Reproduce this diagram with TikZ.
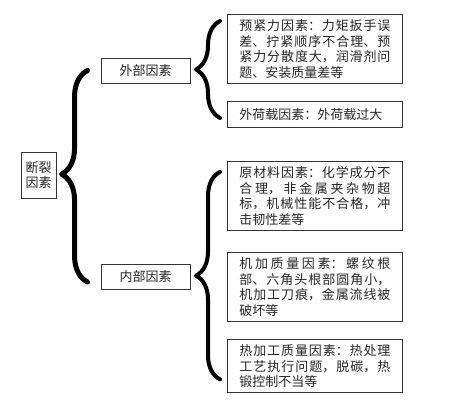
\documentclass[tikz,border=0pt]{standalone}
\usepackage{fontspec}
\newfontfamily\cjk{Noto Sans CJK SC}
\usetikzlibrary{positioning,calc,decorations.pathreplacing}
\XeTeXlinebreaklocale "zh"
\XeTeXlinebreakskip=0pt plus 3pt

\begin{document}
\begin{tikzpicture}[
    x=1pt,y=-1pt,
    font=\cjk\fontsize{13}{15.7}\selectfont,
    box/.style={
        rectangle,draw=black!80,line width=0.9pt,
        text=black!85,
        text width=151pt,
        inner xsep=12pt,inner ysep=5pt,
        align=justify
    },
    tag/.style={
        rectangle,draw=black!80,line width=0.9pt,
        text=black!85,
        minimum width=89pt,minimum height=25pt,
        inner sep=2pt
    },
    brace/.style={
        decorate,line width=4pt,line cap=round,line join=round,
        decoration={brace,amplitude=24pt}
    }
]
\useasboundingbox (0,0) rectangle (474,400);

\node[box,anchor=north west] (pre) at (227,14) {预紧力因素：力矩扳手误\linebreak 差、拧紧顺序不合理、预\linebreak 紧力分散度大，润滑剂问\linebreak 题、安装质量差等};
\node[box,below=17pt of pre,minimum height=26pt] (load) {外荷载因素：外荷载过大};
\node[box,below=33pt of load] (raw) {原材料因素：化学成分不\linebreak 合理，非金属夹杂物超\linebreak 标，机械性能不合格，冲\linebreak 击韧性差等};
\node[box,below=21pt of raw] (mach) {机加质量因素：螺纹根\linebreak 部、六角头根部圆角小，\linebreak 机加工刀痕，金属流线被\linebreak 破坏等};
\node[box,below=17pt of mach] (heat) {热加工质量因素：热处理\linebreak 工艺执行问题，脱碳，热\linebreak 锻控制不当等};

\node[tag] (ext) at (145.5,70.5) {外部因素};
\node[tag] (int) at (145.5,276.5) {内部因素};
\node[tag,minimum width=35pt,minimum height=46pt,text width=26pt,inner xsep=4.5pt,align=center] (root) at (38.5,175) {断裂\\因素};

\coordinate (e1) at ($(pre.north west)+(-7,7)$);
\coordinate (e2) at ($(load.south west)+(-7,-10)$);
\coordinate (i1) at ($(raw.north west)+(-7,11)$);
\coordinate (i2) at ($(heat.south west)+(-7,-14)$);
\coordinate (r1) at ($(ext.west)+(-13,0)$);
\coordinate (r2) at ($(int.west)+(-13,5.5)$);

\draw[brace] (e2) -- (e1);
\draw[brace] (i2) -- (i1);
\draw[brace,line width=5pt,decoration={brace,amplitude=26pt,aspect=0.51}] (r2) -- (r1);
\end{tikzpicture}
\end{document}
